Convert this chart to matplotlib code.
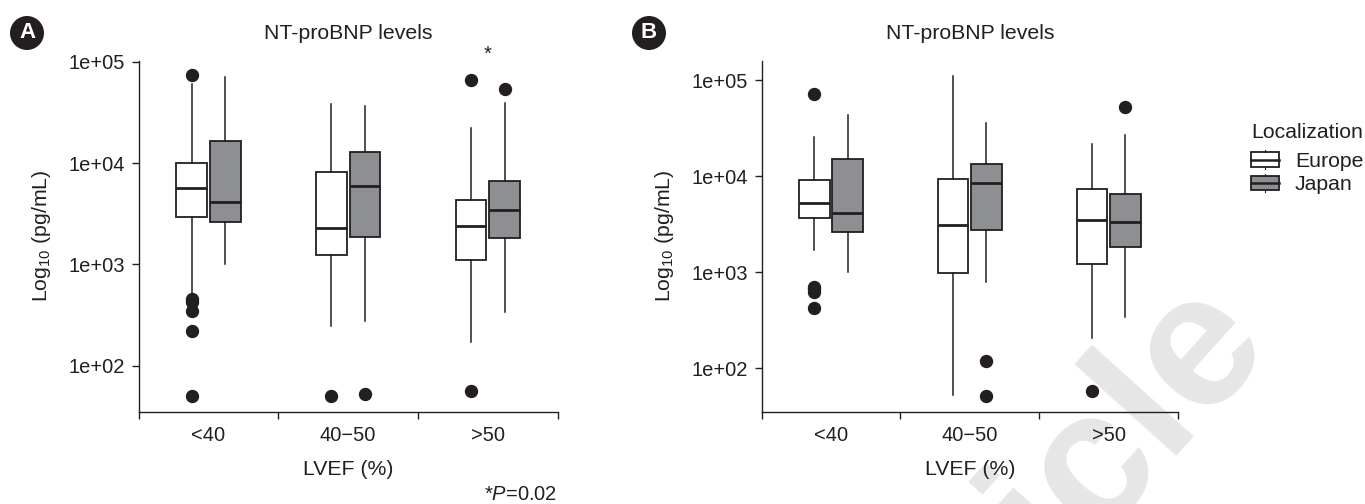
import numpy as np
import matplotlib
matplotlib.use("Agg")
import matplotlib.pyplot as plt
from matplotlib.patches import Rectangle, Circle
from matplotlib.lines import Line2D
from matplotlib.legend_handler import HandlerBase
from matplotlib.ticker import FixedLocator, NullLocator

plt.rcParams['font.family'] = ['Liberation Sans', 'DejaVu Sans']
plt.rcParams['mathtext.fontset'] = 'custom'
plt.rcParams['mathtext.rm'] = 'Liberation Sans'
plt.rcParams['mathtext.it'] = 'Liberation Sans:italic'

# --- dati ---
groups = ['<40', '40\u221250', '>50']
localizations = ['Europe', 'Japan']
ytick_values = [1e2, 1e3, 1e4, 1e5]
ytick_labels = ['1e+02', '1e+03', '1e+04', '1e+05']

# per gruppo: [whislo, q1, med, q3, whishi]
a_europe = [[500, 2965, 5680, 10070, 60800],
            [247, 1236, 2275, 8090, 38000],
            [171, 1110, 2367, 4360, 21900]]
a_europe_out = [[74000, 455, 430, 345, 221, 50.7], [50.7], [66600, 56.8]]
a_japan = [[1000, 2650, 4170, 16600, 70700],
           [275, 1860, 5940, 12900, 36400],
           [340, 1817, 3450, 6600, 39500]]
a_japan_out = [[], [52.6], [54200]]

b_europe = [[1695, 3650, 5270, 9020, 25700],
            [53, 968, 3110, 9380, 111000],
            [204, 1220, 3480, 7380, 21500]]
b_europe_out = [[71000, 703, 660, 623, 425], [], [57.5]]
b_japan = [[1007, 2610, 4150, 14900, 42800],
           [780, 2760, 8450, 13300, 35400],
           [343, 1805, 3340, 6500, 26700]]
b_japan_out = [[], [118, 51.5], [52700]]

ylim_a = (35.3, 1.02e5)
ylim_b = (35.1, 1.59e5)

FS_TICK = 14.5
FS = 15.3
EDGE = '#231f20'
GREY = '#8e8f93'
colors = {'Europe': 'white', 'Japan': GREY}


def to_stats(rows, outs):
    res = []
    for r, o in zip(rows, outs):
        res.append(dict(whislo=r[0], q1=r[1], med=r[2], q3=r[3], whishi=r[4], fliers=o))
    return res


def draw_panel(ax, europe, europe_out, japan, japan_out, ylim, title):
    x = np.arange(len(groups))
    for off, name, rows, outs in [(-0.12, 'Europe', europe, europe_out), (0.12, 'Japan', japan, japan_out)]:
        ax.bxp(to_stats(rows, outs), positions=x + off, widths=0.22, patch_artist=True,
               showcaps=False, manage_ticks=False,
               boxprops=dict(facecolor=colors[name], edgecolor=EDGE, linewidth=1.3),
               medianprops=dict(color=EDGE, linewidth=2.0),
               whiskerprops=dict(color=EDGE, linewidth=1.1),
               flierprops=dict(marker='o', markerfacecolor=EDGE, markeredgecolor=EDGE, markersize=8.6))
    ax.set_yscale('log')
    ax.set_ylim(*ylim)
    ax.set_xlim(-0.5, len(groups) - 0.5)
    ax.yaxis.set_major_locator(FixedLocator(ytick_values))
    ax.yaxis.set_minor_locator(NullLocator())
    ax.set_yticklabels(ytick_labels)
    ax.set_xticks([-0.5, 0.5, 1.5, 2.5])
    ax.set_xticklabels([])
    ax.set_xticks(x, minor=True)
    ax.set_xticklabels(groups, minor=True)
    ax.tick_params(axis='x', which='major', length=5, width=1.0, color=EDGE, direction='out')
    ax.tick_params(axis='x', which='minor', length=0, pad=10, labelsize=FS_TICK, labelcolor=EDGE)
    ax.tick_params(axis='y', length=5, width=1.0, color=EDGE, pad=5, labelsize=FS_TICK, labelcolor=EDGE)
    for s in ['top', 'right']:
        ax.spines[s].set_visible(False)
    for s in ['left', 'bottom']:
        ax.spines[s].set_color(EDGE)
        ax.spines[s].set_linewidth(1.0)
    ax.set_facecolor('none')
    ax.set_title(title, fontsize=FS, pad=15.4, color=EDGE)
    ax.set_xlabel('LVEF (%)', fontsize=FS, labelpad=11, color=EDGE)
    ax.set_ylabel('Log$_{10}$ (pg/mL)', fontsize=FS, labelpad=11, color=EDGE)


class BoxKey(HandlerBase):
    def create_artists(self, legend, orig_handle, xdescent, ydescent, width, height, fontsize, trans):
        x0, y0 = -xdescent, -ydescent
        box = Rectangle((x0, y0), width, height, facecolor=orig_handle.get_facecolor(),
                        edgecolor=EDGE, lw=1.3, transform=trans)
        mid = Line2D([x0, x0 + width], [y0 + height / 2] * 2, color=EDGE, lw=1.8, transform=trans)
        cx = x0 + width / 2
        top = Line2D([cx, cx], [y0 + height, y0 + height + 1.5], color=EDGE, lw=0.8, transform=trans)
        bot = Line2D([cx, cx], [y0, y0 - 1.5], color=EDGE, lw=0.8, transform=trans)
        return [box, mid, top, bot]


fig = plt.figure(figsize=(13.65, 5.04), dpi=100)
ax_a = fig.add_axes([0.1015, 0.1831, 0.3071, 0.6964])
ax_b = fig.add_axes([0.5580, 0.1831, 0.3050, 0.6964])

draw_panel(ax_a, a_europe, a_europe_out, a_japan, a_japan_out, ylim_a, 'NT-proBNP levels')
draw_panel(ax_b, b_europe, b_europe_out, b_japan, b_japan_out, ylim_b, 'NT-proBNP levels')

# asterisco sopra il gruppo >50 del pannello A
ax_a.annotate('*', xy=(2, 1), xycoords=('data', 'axes fraction'), xytext=(0, 0.3),
              textcoords='offset points', ha='center', va='baseline', fontsize=FS_TICK,
              color=EDGE, annotation_clip=False)
fig.text(557 / 1365, 1 - 494 / 504, '*$\\it{P}$=0.02', ha='right', va='center', fontsize=FS_TICK, color=EDGE)

# legenda
fig.text(1251 / 1365, 1 - 133 / 504, 'Localization', ha='left', va='center', fontsize=FS, color=EDGE)
handles = [Rectangle((0, 0), 1, 1, facecolor=colors[n]) for n in localizations]
leg = fig.legend(handles, localizations, handler_map={Rectangle: BoxKey()},
                 loc='upper left', bbox_to_anchor=(1251 / 1365, 1 - 152 / 504),
                 frameon=False, fontsize=FS, borderpad=0, borderaxespad=0,
                 handlelength=1.32, handleheight=0.66, handletextpad=0.75, labelspacing=0.2)
for t in leg.get_texts():
    t.set_color(EDGE)

# etichette dei pannelli
for lab, cx in [('A', 0.27), ('B', 6.49)]:
    fig.add_artist(Circle((cx, 4.71), 0.17, transform=fig.dpi_scale_trans, facecolor=EDGE, edgecolor='none'))
    fig.text(cx, 4.71, lab, transform=fig.dpi_scale_trans, ha='center', va='center',
             color='white', fontsize=16, fontweight='bold')

# filigrana
fig.text(1273 / 1365, 1 - 344 / 504, 'Article', rotation=48, rotation_mode='anchor',
         ha='right', va='baseline', fontsize=137, fontweight='bold', color='#e6e6e6', zorder=-1)

fig.savefig('out.png', dpi=100)
